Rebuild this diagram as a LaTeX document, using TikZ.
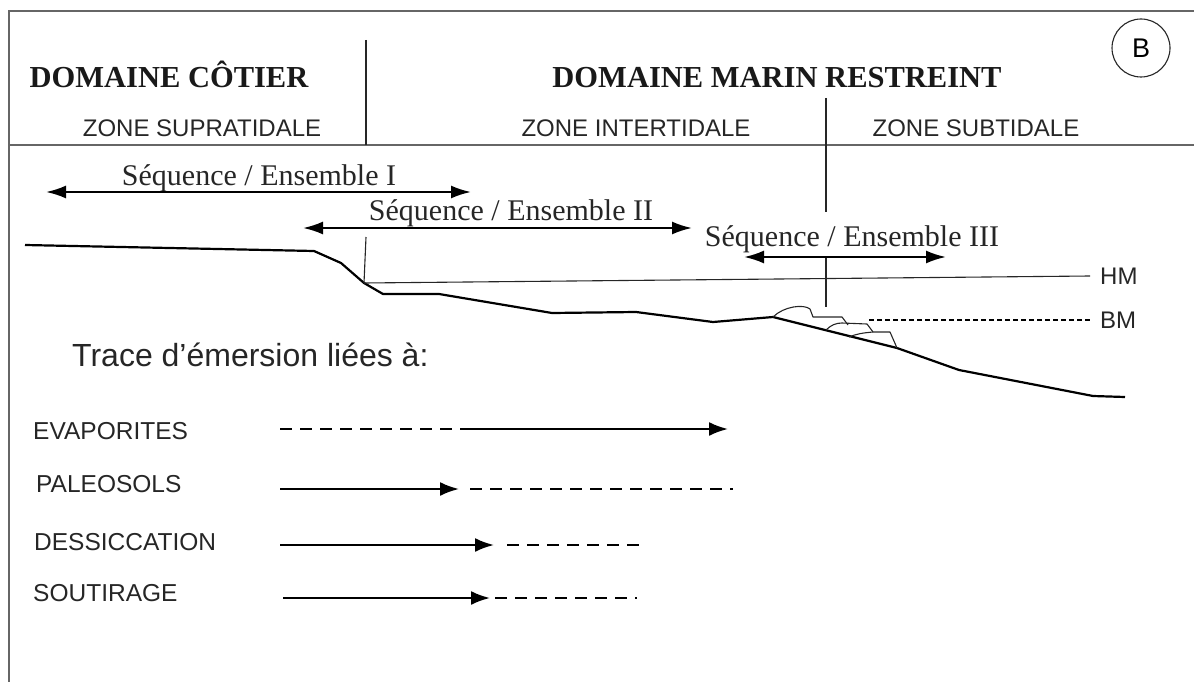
\documentclass[tikz,border=0pt]{standalone}
\usepackage{fontspec}
\setmainfont{Liberation Serif}
\setsansfont{Liberation Sans}
\usetikzlibrary{arrows.meta}
\begin{document}
\begin{tikzpicture}[x=1pt,y=-1pt,
  frameline/.style={draw=black!60, line width=1.6pt},
  divline/.style={draw=black!85, line width=1.1pt},
  profile/.style={draw=black, line width=2.2pt, line join=round},
  seqarrow/.style={draw=black, line width=2.2pt, {Latex[length=20pt,width=13pt]}-{Latex[length=20pt,width=13pt]}},
  legsolid/.style={draw=black, line width=2.2pt, -{Latex[length=19pt,width=14pt]}},
  legdash/.style={draw=black, line width=2pt, dash pattern=on 12pt off 8pt},
  domtext/.style={font=\fontsize{30.5}{34}\selectfont\bfseries, inner sep=0pt, text=black!90},
  zonetext/.style={font=\sffamily\fontsize{24}{28}\selectfont, inner sep=0pt, text=black!85},
  seqtext/.style={font=\fontsize{30}{34}\selectfont, inner sep=0pt, text=black!85},
  legtext/.style={font=\sffamily\fontsize{24.5}{28}\selectfont, inner sep=0pt, text=black!85, anchor=base west},
]
\useasboundingbox (0,0) rectangle (1194,682);

% frame and header rule
\coordinate (fbl) at (9,682);
\coordinate (ftl) at (9,11);
\coordinate (ftr) at (1194,11);
\draw[frameline] (fbl) -- (ftl) -- (ftr);
\coordinate (hl) at (9,145);
\coordinate (hr) at (1194,145);
\draw[frameline] (hl) -- (hr);

% header dividers
\coordinate (d1a) at (366,40);
\coordinate (d1b) at (366,145);
\draw[divline] (d1a) -- (d1b);
\coordinate (d2a) at (826,98);
\coordinate (d2b) at (826,212);
\coordinate (d2c) at (826,257);
\coordinate (d2d) at (826,307);
\draw[divline] (d2a) -- (d2b);
\draw[divline] (d2c) -- (d2d);

% header texts
\node[domtext, anchor=base] (dc) at (169,88) {DOMAINE CÔTIER};
\node[domtext, anchor=base] (dm) at (777,88) {DOMAINE MARIN RESTREINT};
\node[zonetext, anchor=base] (zsup) at (202,136) {ZONE SUPRATIDALE};
\node[zonetext, anchor=base] (zint) at (636,136) {ZONE INTERTIDALE};
\node[zonetext, anchor=base] (zsub) at (976,136) {ZONE SUBTIDALE};
\node[draw=black!85, line width=1.1pt, circle, minimum size=58pt, inner sep=0pt,
      font=\sffamily\fontsize{27}{30}\selectfont] (lb) at (1141,48) {B};

% sequences
\node[seqtext, anchor=base] (s1) at (259,185) {Séquence / Ensemble I};
\coordinate (s1a) at (46,192);
\coordinate (s1b) at (471,192);
\draw[seqarrow] (s1a) -- (s1b);
\node[seqtext, anchor=base] (s2) at (511,220) {Séquence / Ensemble II};
\coordinate (s2a) at (303,228);
\coordinate (s2b) at (692,228);
\draw[seqarrow] (s2a) -- (s2b);
\node[seqtext, anchor=base] (s3) at (852,246) {Séquence / Ensemble III};
\coordinate (s3a) at (744,257);
\coordinate (s3b) at (946,257);
\draw[seqarrow] (s3a) -- (s3b);

% shoreline profile
\coordinate (p0) at (25,245);
\coordinate (p1) at (314,251);
\coordinate (p2) at (341,263);
\coordinate (p3) at (364,283);
\coordinate (p4) at (383,294);
\coordinate (p5) at (439,294);
\coordinate (p6) at (552,313);
\coordinate (p7) at (636,312);
\coordinate (p8) at (713,322);
\coordinate (p9) at (773,317);
\coordinate (p10) at (897,348);
\coordinate (p11) at (959,370);
\coordinate (p12) at (1093,396);
\coordinate (p13) at (1125,397);
\draw[profile] (p0) -- (p1) -- (p2) -- (p3) -- (p4) -- (p5) -- (p6) -- (p7) -- (p8) -- (p9) -- (p10) -- (p11) -- (p12) -- (p13);

% break-of-slope marker and sea levels
\coordinate (v1a) at (366,237);
\draw[divline] (v1a) -- (p3);
\coordinate (hmr) at (1090,276);
\draw[divline] (p3) -- (hmr);
\node[zonetext, anchor=base west] (hm) at (1100,284) {HM};
\coordinate (bml) at (869,320);
\coordinate (bmr) at (1090,320);
\draw[draw=black, line width=1.1pt, dash pattern=on 5pt off 3pt] (bml) -- (bmr);
\node[zonetext, anchor=base west] (bm) at (1100,328) {BM};

% shingled deposits on the slope
\draw[divline, line join=round] (p9) .. controls (784,306) and (804,304) .. (810,309) -- (813,317) -- (842,317) -- (848,325);
\draw[divline, line join=round] (826,330) .. controls (831,325) and (836,323) .. (842,323) -- (867,324) -- (873,332) -- (890,332) -- (897,348);
\draw[divline] (849,337) .. controls (856,334) and (862,333) .. (873,332);

% emersion traces
\node[font=\sffamily\fontsize{32}{36}\selectfont, inner sep=0pt, text=black!85, anchor=base west] (tr) at (72,366) {Trace d'émersion liées à:};

\node[legtext] (ev) at (33,439) {EVAPORITES};
\coordinate (ev0) at (280,429);
\coordinate (ev1) at (461,429);
\coordinate (ev2) at (728,429);
\draw[legdash] (ev0) -- (ev1);
\draw[legsolid] (ev1) -- (ev2);

\node[legtext] (pa) at (36,492) {PALEOSOLS};
\coordinate (pa0) at (280,489);
\coordinate (pa1) at (459,489);
\coordinate (pa2) at (470,489);
\coordinate (pa3) at (733,489);
\draw[legsolid] (pa0) -- (pa1);
\draw[legdash] (pa2) -- (pa3);

\node[legtext] (de) at (34,550) {DESSICCATION};
\coordinate (de0) at (280,545);
\coordinate (de1) at (494,545);
\coordinate (de2) at (507,545);
\coordinate (de3) at (641,545);
\draw[legsolid] (de0) -- (de1);
\draw[legdash] (de2) -- (de3);

\node[legtext] (so) at (33,601) {SOUTIRAGE};
\coordinate (so0) at (283,598);
\coordinate (so1) at (490,598);
\coordinate (so2) at (495,598);
\coordinate (so3) at (637,598);
\draw[legsolid] (so0) -- (so1);
\draw[legdash] (so2) -- (so3);
\end{tikzpicture}
\end{document}
